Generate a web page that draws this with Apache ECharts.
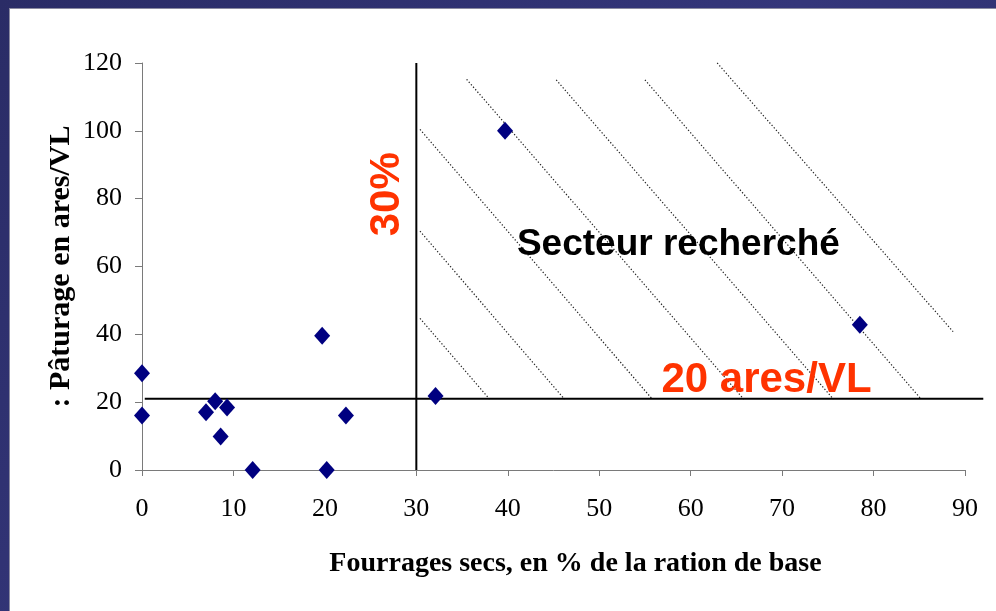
<!DOCTYPE html>
<html><head><meta charset="utf-8">
<script src="https://cdn.jsdelivr.net/npm/echarts@6/dist/echarts.min.js"></script>
<style>
html,body{margin:0;padding:0;background:#2c2e6b;}
#wrap{position:relative;width:996px;height:611px;background:linear-gradient(135deg,#2a2c66,#34367a 50%,#2a2c66);overflow:hidden;}
#panel{position:absolute;left:9px;top:8px;right:0;bottom:0;background:#fff;border-left:1px solid #8a8aa0;border-top:1px solid #8a8aa0;}
#chart{position:absolute;left:0;top:0;width:996px;height:611px;}
</style></head><body>
<div id="wrap"><div id="panel"></div><div id="chart"></div></div>
<script>
// Data
const fourragesSecs = [0, 0, 7.0, 8.0, 9.3, 8.6, 12.1, 19.7, 20.2, 22.3, 32.1, 39.7, 78.5];
const paturage      = [28.5, 16.1, 17.0, 20.3, 18.4, 9.9, 0, 39.6, 0, 16.1, 21.8, 100, 42.8];
const xTickValues = [0, 10, 20, 30, 40, 50, 60, 70, 80, 90];
const yTickValues = [0, 20, 40, 60, 80, 100, 120];
// threshold lines: [x1, y1, x2, y2]
const thresholdLines = [
  [30, 0, 30, 120],      // 30 %
  [0.3, 21, 92, 21]      // 20 ares/VL
];
// hatch lines: [x1, y1, x2, y2]
const hatchLines = [
  [30.4, 44.7, 38.0, 20.9],
  [30.4, 70.4, 46.2, 20.9],
  [30.4, 100.4, 55.8, 20.9],
  [35.5, 115.2, 65.8, 20.9],
  [45.3, 115.0, 75.6, 20.9],
  [55.0, 115.0, 85.2, 20.9],
  [62.9, 120.0, 88.7, 40.8]
];
const xTitle = 'Fourrages secs, en % de la ration de base';
const yTitle = ': Pâturage en ares/VL';
const annotations = [
  {text: 'Secteur recherché', x: 41.0, y: 66.5, color: '#000000', size: 37, rotate: 0, align: 'left'},
  {text: '20 ares/VL', x: 56.8, y: 26.3, color: '#ff3300', size: 42, rotate: 0, align: 'left'},
  {text: '30%', x: 26.8, y: 81.3, color: '#ff3300', size: 42, rotate: Math.PI / 2, align: 'center'}
];

const chart = echarts.init(document.getElementById('chart'), null, {renderer: 'canvas'});
const axisGray = '#7a7a7a';
const serif = '"Liberation Serif","Times New Roman",serif';

function segmentSeries(lines, style, z) {
  return {
    type: 'custom', silent: true, clip: false, z: z,
    data: lines,
    encode: {x: [0, 2], y: [1, 3]},
    renderItem: function (params, api) {
      const p1 = api.coord([api.value(0), api.value(1)]);
      const p2 = api.coord([api.value(2), api.value(3)]);
      return {
        type: 'line',
        shape: {x1: p1[0], y1: p1[1], x2: p2[0], y2: p2[1]},
        style: style
      };
    }
  };
}

const series = [
  segmentSeries(hatchLines, {stroke: '#222', lineWidth: 1.2, lineDash: [1.3, 2]}, 2),
  segmentSeries(thresholdLines, {stroke: '#000', lineWidth: 2}, 3),
  {
    type: 'scatter',
    data: fourragesSecs.map((v, i) => [v, paturage[i]]),
    symbol: 'diamond', symbolSize: [16, 18], clip: false, z: 10,
    itemStyle: {color: '#000080', opacity: 1}
  }
];

chart.setOption({
  backgroundColor: 'transparent',
  animation: false,
  grid: {left: 142, right: 31, top: 63, bottom: 141, containLabel: false},
  xAxis: {
    type: 'value', min: xTickValues[0], max: xTickValues[xTickValues.length - 1], interval: 10,
    axisLine: {show: true, onZero: true, lineStyle: {color: axisGray, width: 1}},
    axisTick: {show: true, inside: false, length: 6, lineStyle: {color: axisGray}},
    splitLine: {show: false},
    axisLabel: {fontFamily: serif, fontSize: 26, color: '#000', margin: 26},
    name: xTitle, nameLocation: 'middle', nameGap: 80, nameMoveOverlap: false,
    nameTextStyle: {fontFamily: serif, fontWeight: 'bold', fontSize: 28, color: '#000', padding: [0, 0, 0, 44]}
  },
  yAxis: {
    type: 'value', min: yTickValues[0], max: yTickValues[yTickValues.length - 1], interval: 20,
    axisLine: {show: true, onZero: false, lineStyle: {color: axisGray, width: 1}},
    axisTick: {show: true, inside: false, length: 7, lineStyle: {color: axisGray}},
    splitLine: {show: false},
    axisLabel: {fontFamily: serif, fontSize: 26, color: '#000', margin: 20},
    name: yTitle, nameLocation: 'middle', nameGap: 66, nameRotate: 90, nameMoveOverlap: false,
    nameTextStyle: {fontFamily: serif, fontWeight: 'bold', fontSize: 30, color: '#000'}
  },
  series: series
});

const graphics = annotations.map(a => {
  const p = chart.convertToPixel({gridIndex: 0}, [a.x, a.y]);
  return {
    type: 'text', x: p[0], y: p[1], rotation: a.rotate, z: 20,
    style: {
      text: a.text, fill: a.color,
      font: 'bold ' + a.size + 'px "Liberation Sans", Arial, sans-serif',
      textAlign: a.align, textVerticalAlign: 'middle'
    }
  };
});
chart.setOption({graphic: graphics});
</script>
</body></html>
